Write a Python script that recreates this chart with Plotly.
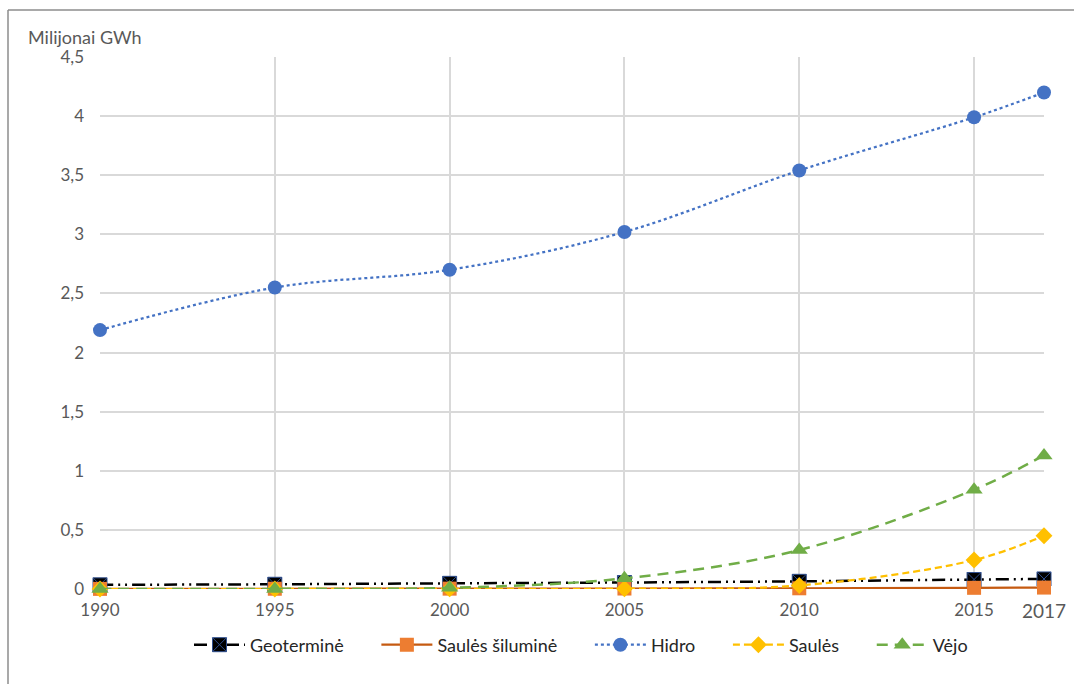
import plotly.graph_objects as go

# Metai ir atsinaujinančių šaltinių gamyba (milijonai GWh)
years = [1990, 1995, 2000, 2005, 2010, 2015, 2017]
geotermine = [0.035, 0.04, 0.048, 0.055, 0.065, 0.08, 0.085]
saules_silumine = [0.001, 0.002, 0.003, 0.004, 0.006, 0.01, 0.012]
hidro = [2.19, 2.55, 2.70, 3.02, 3.54, 3.99, 4.20]
saules = [0.0, 0.0, 0.001, 0.002, 0.03, 0.245, 0.45]
vejo = [0.0, 0.001, 0.01, 0.09, 0.33, 0.84, 1.13]

grid_years = [1990, 1995, 2000, 2005, 2010, 2015]
y_ticks = [0, 0.5, 1, 1.5, 2, 2.5, 3, 3.5, 4, 4.5]

FONT = "Lato, 'Open Sans', sans-serif"
GRAY = "#595959"
PAD = "\u00a0" * 6  # extra room between legend entries

fig = go.Figure()

fig.add_trace(go.Scatter(
    x=years, y=geotermine, name="Geoterminė" + PAD, mode="lines+markers",
    line=dict(color="black", width=2.5, dash="13px,5px,2px,5px,2px,5px", shape="spline"),
    marker=dict(symbol="square-x", size=14, color="black",
                line=dict(color="#2F4F8F", width=1)),
    cliponaxis=False,
))
fig.add_trace(go.Scatter(
    x=years, y=saules_silumine, name="Saulės šiluminė" + PAD, mode="lines+markers",
    line=dict(color="#C55A11", width=2.25, shape="spline"),
    marker=dict(symbol="square", size=14, color="#ED7D31"),
    cliponaxis=False,
))
fig.add_trace(go.Scatter(
    x=years, y=hidro, name="Hidro" + PAD, mode="lines+markers",
    line=dict(color="#4472C4", width=2.25, dash="dot", shape="spline"),
    marker=dict(symbol="circle", size=14, color="#4472C4"),
    cliponaxis=False,
))
fig.add_trace(go.Scatter(
    x=years, y=saules, name="Saulės" + PAD, mode="lines+markers",
    line=dict(color="#FFC000", width=2.25, dash="7px,4px", shape="spline"),
    marker=dict(symbol="diamond", size=13, color="#FFC000"),
    cliponaxis=False,
))
fig.add_trace(go.Scatter(
    x=years, y=vejo, name="Vėjo", mode="lines+markers",
    line=dict(color="#70AD47", width=2.5, dash="11px,7px", shape="spline"),
    marker=dict(symbol="triangle-up", size=15, color="#70AD47"),
    cliponaxis=False,
))

# Plot area: x 100..1044 px, y 57..589 px
L, R, T, B = 100, 30, 57, 95
W, H = 1074 - L - R, 684 - T - B

def px_x(p):
    return (p - L) / W

def px_y(p):
    return (684 - B - p) / H

fig.update_layout(
    width=1074, height=684,
    margin=dict(l=L, r=R, t=T, b=B),
    paper_bgcolor="white", plot_bgcolor="white",
    separators=", ",
    font=dict(family=FONT, color=GRAY, size=16),
    showlegend=True,
    legend=dict(
        orientation="h", x=px_x(581), xanchor="center", y=px_y(645), yanchor="middle",
        font=dict(family=FONT, size=18, color="#262626"),
        itemwidth=51, tracegroupgap=0,
    ),
    xaxis=dict(
        range=[1990, 2017], tickvals=grid_years, ticktext=[str(v) for v in grid_years],
        showgrid=True, gridcolor="#D9D9D9", gridwidth=1.5,
        zeroline=False, showline=False, ticks="", ticklabelstandoff=9,
        tickfont=dict(family=FONT, size=17, color=GRAY),
    ),
    yaxis=dict(
        range=[0, 4.5], tickvals=y_ticks,
        showgrid=True, gridcolor="#D9D9D9", gridwidth=1.5,
        zeroline=False, showline=False, ticks="", ticklabelstandoff=15,
        tickfont=dict(family=FONT, size=17, color=GRAY),
    ),
    annotations=[
        dict(text="Milijonai GWh", xref="paper", yref="paper",
             x=px_x(26), y=px_y(37), xanchor="left", yanchor="middle",
             showarrow=False, font=dict(family=FONT, size=18, color=GRAY)),
        dict(text="2017", xref="x", yref="paper",
             x=2017, y=px_y(610), xanchor="center", yanchor="middle",
             showarrow=False, font=dict(family=FONT, size=19, color=GRAY)),
    ],
    shapes=[
        dict(type="line", xref="paper", yref="paper",
             x0=px_x(8), x1=px_x(1100), y0=px_y(10), y1=px_y(10),
             line=dict(color="#8C8C8C", width=1.5)),
        dict(type="line", xref="paper", yref="paper",
             x0=px_x(8), x1=px_x(8), y0=px_y(10), y1=px_y(700),
             line=dict(color="#8C8C8C", width=1.5)),
    ],
)

fig.write_html("out.html")
